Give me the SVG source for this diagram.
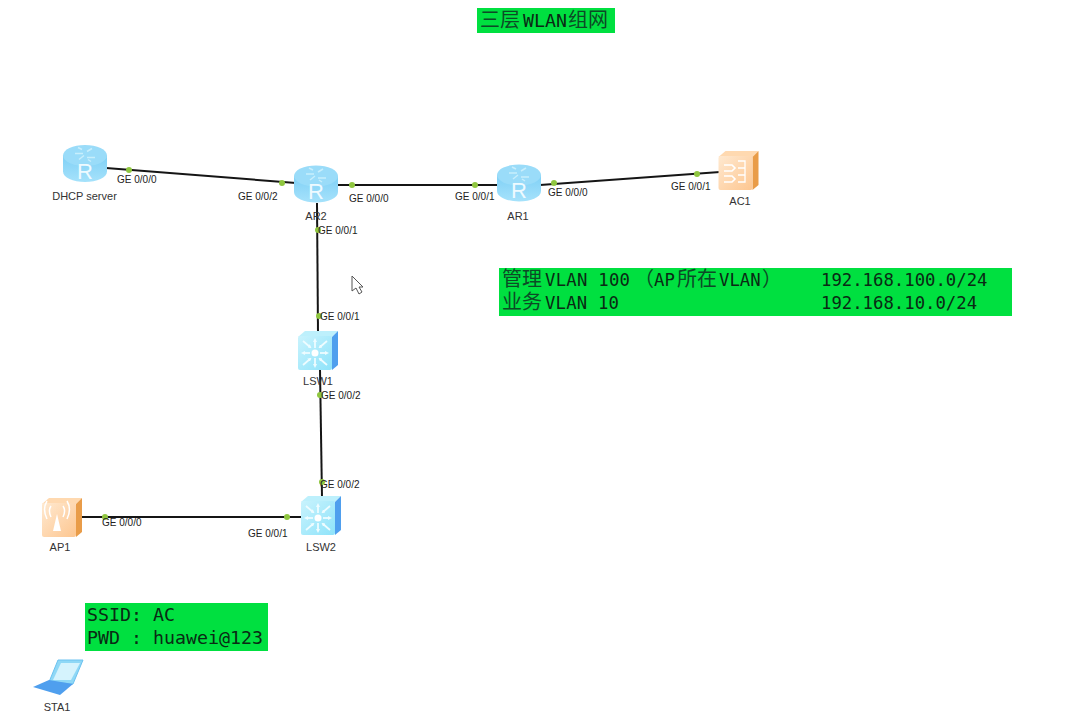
<svg xmlns="http://www.w3.org/2000/svg" width="1070" height="728" viewBox="0 0 1070 728">
<style>
.lbl{font:10px "Liberation Sans",Arial,sans-serif;fill:#222}
.name{font:11px "Liberation Sans",Arial,sans-serif;fill:#333}
.link{stroke:#151515;stroke-width:2;fill:none}
.dot{fill:#8fc63f}
.box{fill:#00e040}
.mono{font-family:"DejaVu Sans Mono","Liberation Mono",monospace;font-size:17.300px;fill:#0a2a14}
.wide{font-size:18.300px}
.cjk{font-family:"Liberation Mono","Noto Sans CJK SC",sans-serif;font-size:20px;fill:#0d4a26}
</style>
<defs>
<linearGradient id="rt" x1="0" y1="0" x2="0" y2="1"><stop offset="0" stop-color="#7fd0f6"/><stop offset="1" stop-color="#a6e2fb"/></linearGradient>
<linearGradient id="sw" x1="0" y1="0" x2="1" y2="1"><stop offset="0" stop-color="#c9f3fd"/><stop offset="1" stop-color="#8ee3fa"/></linearGradient>
<linearGradient id="or" x1="0" y1="0" x2="1" y2="1"><stop offset="0" stop-color="#ffe9d0"/><stop offset="1" stop-color="#fdc690"/></linearGradient>
<marker id="ah" markerWidth="4" markerHeight="4" refX="2" refY="2" orient="auto" markerUnits="userSpaceOnUse"><path d="M0 0 4 2 0 4Z" fill="#eefcff"/></marker>
<g id="router">
<path d="M-22-8V8C-22 14-12 18.500 0 18.500S22 14 22 8V-8Z" fill="url(#rt)"/>
<ellipse cx="0" cy="-8" rx="22" ry="10.500" fill="#9adcf9"/>
<g stroke="#c8eefc" stroke-width="1.500" fill="none">
<path d="M-10-10H-2M2-6H10M-6-4-1-8M2-12 7-15M-3-14-7-16M3-4 6-2"/>
</g>
<text x="0" y="15" text-anchor="middle" font-family="Liberation Sans,sans-serif" font-size="22" fill="#eefaff">R</text>
</g>
<g id="switch">
<path d="M-20-14-13-20H20L14-14Z" fill="#bdf0fc"/>
<path d="M14-14 20-20V14L14 19Z" fill="#4f9fee"/>
<rect x="-20" y="-15" width="34" height="34" rx="2" fill="url(#sw)"/>
<g stroke="#eefcff" stroke-width="1.800" fill="none" marker-end="url(#ah)">
<path d="M-15-10-8-4"/><path d="M-15 14-8 8"/><path d="M9-10 2-4"/><path d="M9 14 2 8"/>
<path d="M-3-3-3-11"/><path d="M-3 7-3 15"/><path d="M-8 2-15 2"/><path d="M2 2 9 2"/>
</g>
<circle cx="-3" cy="2" r="3.500" fill="#fff"/>
</g>
<g id="orange">
<path d="M-20-14-13-20H20L14-14Z" fill="#ffd9b0"/>
<path d="M14-14 20-20V14L14 19Z" fill="#e99c48"/>
<rect x="-20" y="-15" width="34" height="34" rx="2" fill="url(#or)"/>
</g>
</defs>
<rect width="1070" height="728" fill="#fff"/>
<g id="connectors">
<path class="link" d="M106 168 296 183"/>
<path class="link" d="M338 185H498"/>
<path class="link" d="M540 185 720 172"/>
<path class="link" d="M317 203 318 332"/>
<path class="link" d="M320 369 322 498"/>
<path class="link" d="M81 517H302"/>
<g>
<circle class="dot" cx="129" cy="170" r="3"/><circle class="dot" cx="282" cy="183" r="3"/>
<circle class="dot" cx="352" cy="185" r="3"/><circle class="dot" cx="475" cy="185" r="3"/>
<circle class="dot" cx="554" cy="183" r="3"/><circle class="dot" cx="697" cy="174" r="3"/>
<circle class="dot" cx="318" cy="230" r="3"/><circle class="dot" cx="319" cy="316" r="3"/>
<circle class="dot" cx="320" cy="395" r="3"/><circle class="dot" cx="322" cy="482" r="3"/>
<circle class="dot" cx="105" cy="517" r="3"/><circle class="dot" cx="287" cy="517" r="3"/>
</g>
<text class="lbl" x="117" y="183">GE 0/0/0</text>
<text class="lbl" x="238" y="200">GE 0/0/2</text>
<text class="lbl" x="349" y="202">GE 0/0/0</text>
<text class="lbl" x="455" y="200">GE 0/0/1</text>
<text class="lbl" x="548" y="196">GE 0/0/0</text>
<text class="lbl" x="671" y="190">GE 0/0/1</text>
<text class="lbl" x="318" y="234">GE 0/0/1</text>
<text class="lbl" x="320" y="320">GE 0/0/1</text>
<text class="lbl" x="321" y="399">GE 0/0/2</text>
<text class="lbl" x="320" y="488">GE 0/0/2</text>
<text class="lbl" x="102" y="526">GE 0/0/0</text>
<text class="lbl" x="248" y="537">GE 0/0/1</text>
</g>
<g id="dhcp-server"><use href="#router" x="85" y="163.500"/><text class="name" x="84.500" y="200" text-anchor="middle">DHCP server</text></g>
<g id="AR2"><use href="#router" x="316" y="184"/><text class="name" x="316" y="220" text-anchor="middle">AR2</text></g>
<g id="AR1"><use href="#router" x="519" y="183"/><text class="name" x="518" y="220" text-anchor="middle">AR1</text></g>
<g id="AC1"><use href="#orange" x="738.500" y="171"/>
<path d="M724 165h8l3 3-3 3h-8M724 176h8l3 3-3 3h-8" stroke="#fff" stroke-width="1.600" fill="none"/>
<path d="M738 161h7v21h-7M738 168h7M738 175h7" stroke="#fff" stroke-width="1.300" fill="none"/>
<text class="name" x="740" y="205" text-anchor="middle">AC1</text></g>
<g id="LSW1"><use href="#switch" x="318" y="351"/><text class="name" x="318" y="385" text-anchor="middle">LSW1</text></g>
<g id="LSW2"><use href="#switch" x="321" y="516"/><text class="name" x="321" y="551" text-anchor="middle">LSW2</text></g>
<g id="AP1"><use href="#orange" x="62" y="518"/>
<path d="M53 531 57 514 61 531Z" fill="#fff"/>
<path d="M51 517C49 513 49 509 51 506M63 517C65 513 65 509 63 506M47 519C44 513 44 506 47 501M67 519C70 513 70 506 67 501" stroke="#fff" stroke-width="1.500" fill="none"/>
<text class="name" x="60" y="551" text-anchor="middle">AP1</text></g>
<g id="STA1">
<path d="M49 682 58 660H83L73 684Z" fill="#8fd8f6" stroke="#6cc2f0"/>
<path d="M53 680 61 663H80L71 680Z" fill="#d5f3fd"/>
<path d="M33 687 49 680 73 684 60 695Z" fill="#4f9fee"/>
<text class="name" x="57" y="711" text-anchor="middle">STA1</text></g>
<g id="title"><rect class="box" x="477" y="8" width="138" height="25"/>
<text class="cjk" x="480" y="27">三层</text><text class="mono wide" x="523" y="27">WLAN</text><text class="cjk" x="568" y="27">组网</text></g>
<g id="vlan-note"><rect class="box" x="499" y="268" width="513" height="48"/>
<text class="cjk" x="502" y="286">管理</text><text class="mono" x="545" y="286" textLength="85">VLAN 100</text><text class="cjk" x="634" y="286">（</text><text class="mono" x="654" y="286">AP</text><text class="cjk" x="677" y="286">所在</text><text class="mono" x="719" y="286">VLAN</text><text class="cjk" x="762" y="286">）</text><text class="mono" x="821" y="286">192.168.100.0/24</text>
<text class="cjk" x="502" y="309">业务</text><text class="mono" x="545" y="309" textLength="74">VLAN 10</text><text class="mono" x="821" y="309">192.168.10.0/24</text></g>
<g id="ssid-note"><rect class="box" x="85" y="603" width="183" height="48"/>
<text class="mono wide" x="87" y="621">SSID: AC</text><text class="mono wide" x="87" y="644">PWD : huawei@123</text></g>
<path id="cursor" d="M352 276V291L356 288 359 294 362 292 359 287H363Z" fill="#fff" stroke="#555" stroke-width="1"/>
</svg>
